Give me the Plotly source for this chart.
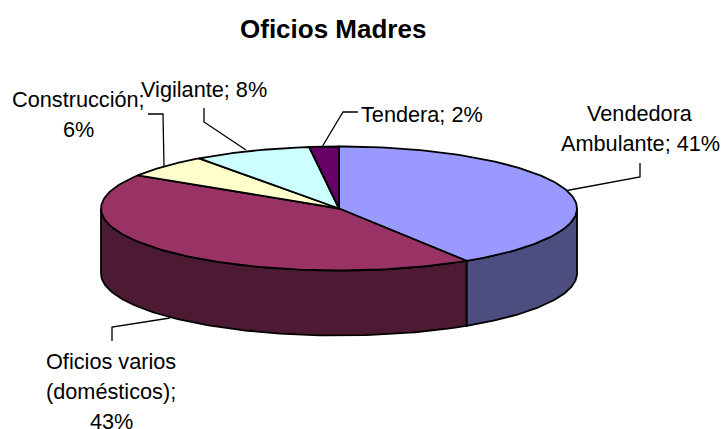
import numpy as np
import plotly.graph_objects as go

# ---- data ----
categories = ["Vendedora Ambulante", "Oficios varios (domésticos)", "Construcción", "Vigilante", "Tendera"]
values = [41, 43, 6, 8, 2]
title_text = "Oficios Madres"

# ---- style / layout ----
top_colors = ["#9999FF", "#993366", "#FFFFCC", "#CCFFFF", "#660066"]
wall_colors = ["#4D4D80", "#4D1A33", "#80805F", "#668080", "#330033"]
CX, CY, RX, RY, DEPTH = 339, 208.5, 238, 62, 65
LW = 1.8
FONT = "Liberation Sans"
FS = 21.7

# label layout: text lines, centre x, centre y per line
label_layout = [
    (["Vendedora", "Ambulante; {v}%"], 640, [113, 143]),
    (["Oficios varios", "(domésticos);", "{v}%"], 111, [361, 391, 421]),
    (["Construcción;", "{v}%"], 78, [99, 129]),
    (["Vigilante; {v}%"], 204, [89]),
    (["Tendera; {v}%"], 421.5, [114]),
]
leaders = [
    [(640, 163), (640, 177), (567, 190.5)],
    [(112, 341), (112, 327), (170, 318)],
    [(148, 114), (163, 114), (164, 166)],
    [(204, 108), (204, 122), (246, 150)],
    [(322, 147), (343, 112), (358, 112)],
]


def ellipse(deg, dy=0.0):
    r = np.radians(deg)
    return CX + RX * np.sin(r), CY - RY * np.cos(r) + dy


fig = go.Figure()

edges = np.concatenate([[0], np.cumsum(values)]) * 360.0 / sum(values)

# side walls: only the front half (90..270 degrees) is visible
for i in range(len(values)):
    a, b = max(edges[i], 90), min(edges[i + 1], 270)
    if a >= b:
        continue
    t = np.linspace(a, b, 90)
    xt, yt = ellipse(t)
    xb, yb = ellipse(t[::-1], DEPTH)
    fig.add_trace(go.Scatter(
        x=np.r_[xt, xb, xt[0]], y=np.r_[yt, yb, yt[0]], mode="lines",
        fill="toself", fillcolor=wall_colors[i],
        line=dict(color="black", width=LW), hoverinfo="skip", showlegend=False))

# top faces
for i in range(len(values)):
    t = np.linspace(edges[i], edges[i + 1], 120)
    xt, yt = ellipse(t)
    fig.add_trace(go.Scatter(
        x=np.r_[CX, xt, CX], y=np.r_[CY, yt, CY], mode="lines",
        fill="toself", fillcolor=top_colors[i],
        line=dict(color="black", width=LW),
        name=categories[i], text=f"{categories[i]}; {values[i]}%", hoverinfo="text",
        showlegend=False))

# leader lines
for pts in leaders:
    fig.add_trace(go.Scatter(
        x=[p[0] for p in pts], y=[p[1] for p in pts], mode="lines",
        line=dict(color="black", width=1.3), hoverinfo="skip", showlegend=False))

# labels
annotations = []
for (lines, lx, lys), v in zip(label_layout, values):
    for line, ly in zip(lines, lys):
        annotations.append(dict(
            x=lx, y=ly, xref="x", yref="y", text=line.format(v=v), showarrow=False,
            xanchor="center", yanchor="middle",
            font=dict(family=FONT, size=FS, color="black")))
annotations.append(dict(
    x=333, y=29, xref="x", yref="y", text=f"<b>{title_text}</b>", showarrow=False,
    xanchor="center", yanchor="middle",
    font=dict(family=FONT, size=26, color="black")))

fig.update_layout(
    width=721, height=429, margin=dict(l=0, r=0, t=0, b=0),
    paper_bgcolor="white", plot_bgcolor="white", showlegend=False,
    annotations=annotations,
    xaxis=dict(range=[0, 721], visible=False, fixedrange=True),
    yaxis=dict(range=[429, 0], visible=False, fixedrange=True),
)
fig.write_html(
    "out.html",
    config={"displayModeBar": False},
    post_script="document.body.style.margin='0';document.body.style.overflow='hidden';",
)
